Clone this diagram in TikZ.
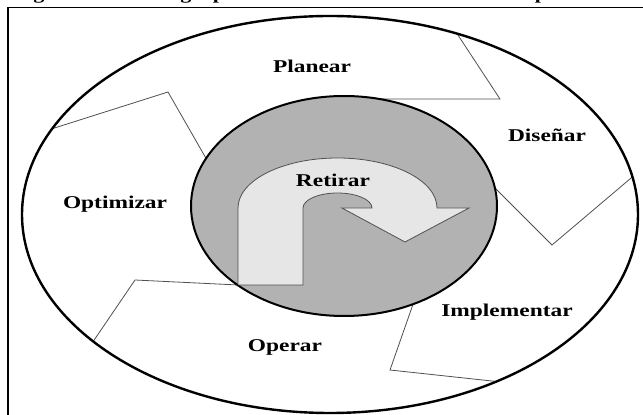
\documentclass[tikz,border=0pt]{standalone}
\usepackage{fontspec}
\setmainfont{Liberation Serif}
\usepackage{graphicx}
\definecolor{ringgray}{HTML}{B2B2B2}
\definecolor{arrowgray}{HTML}{E6E6E6}
\definecolor{sepgray}{HTML}{505050}
\tikzset{
  lbl/.style={anchor=base, inner sep=0pt, font=\fontsize{18}{18}\selectfont\bfseries},
  sepline/.style={draw=sepgray, line width=0.8pt, line join=miter},
  frameline/.style={draw=black, line width=1.8pt},
}
\newcommand{\wide}[1]{\scalebox{1.3}[1]{#1}}
\begin{document}
\begin{tikzpicture}[x=1pt,y=1pt]
\clip (0,0) rectangle (643,415);
\fill[white] (0,0) rectangle (643,415);
% caption fragments cut off at the top
\node[lbl, font=\fontsize{17}{17}\selectfont\bfseries] (c1) at (39,415.5) {\wide{g}};
\node[lbl, font=\fontsize{17}{17}\selectfont\bfseries] (c2) at (186,415.5) {\wide{g}};
\node[lbl, font=\fontsize{17}{17}\selectfont\bfseries] (c3) at (219,415.5) {\wide{p}};
\node[lbl, font=\fontsize{17}{17}\selectfont\bfseries] (c4) at (541,415.5) {\wide{p}};
% frame
\draw[frameline] (8,-5) -- (8,407.5) -- (650,407.5);
% separators, clipped to the outer ellipse
\begin{scope}
\clip (330,200.5) ellipse [x radius=308, y radius=198.5];
\draw[sepline] (45,284) -- (168,323) -- (215,241);
\draw[sepline] (452,389) -- (500,316) -- (360,316);
\draw[sepline] (480,242) -- (552,170) -- (650,253);
\draw[sepline] (418,125) -- (390,45) -- (515,31.5);
\draw[sepline] (86,63) -- (135,135) -- (238,130);
\end{scope}
% outer ellipse
\draw[line width=2.4pt] (330,200.5) ellipse [x radius=308, y radius=198.5];
% inner disc
\draw[fill=ringgray, line width=2pt] (344,209) ellipse [x radius=153, y radius=110];
% U-turn arrow
\draw[fill=arrowgray, draw=sepgray, line width=0.8pt, line join=miter]
  (238,130) -- (238,207)
  arc[start angle=180, end angle=0, x radius=99.5, y radius=50]
  -- (469,207) -- (405,173) -- (342,207) -- (372,207)
  arc[start angle=0, end angle=180, x radius=34.5, y radius=15]
  -- (303,130) -- cycle;
% labels
\node[lbl] (planear) at (312,342) {\wide{Planear}};
\node[lbl] (disenar) at (547,273) {\wide{Diseñar}};
\node[lbl] (optimizar) at (115,206) {\wide{Optimizar}};
\node[lbl] (retirar) at (333,228) {\wide{Retirar}};
\node[lbl] (implementar) at (507,98) {\wide{Implementar}};
\node[lbl] (operar) at (285,63) {\wide{Operar}};
\end{tikzpicture}
\end{document}
